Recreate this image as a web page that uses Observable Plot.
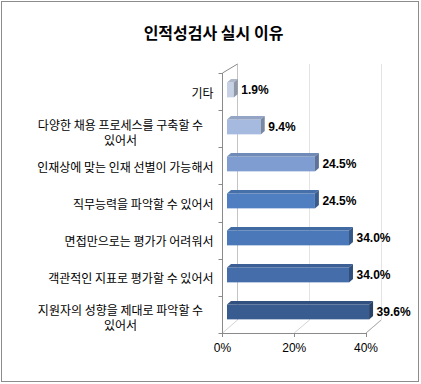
<!DOCTYPE html>
<html><head><meta charset="utf-8">
<script src="https://cdn.jsdelivr.net/npm/d3@7"></script>
<script src="https://cdn.jsdelivr.net/npm/@observablehq/plot@0.6"></script>
<style>
body{margin:0;background:#fff;}
#frame{position:absolute;left:1px;top:1px;width:416px;height:379px;border:1px solid #8c8c8c;}
#chart{position:absolute;left:0;top:0;}
</style></head><body>
<div id="frame"></div><div id="chart"></div>
<script>
const title = "인적성검사 실시 이유";
const categories = ["기타", "다양한 채용 프로세스", "인재상에 맞는 인재 선별", "직무능력 파악", "면접만으로는 평가 어려움", "객관적인 지표로 평가", "지원자의 성향 파악"];
const categoryLabels = [
  "기타",
  "다양한 채용 프로세스를 구축할 수\n있어서",
  "인재상에 맞는 인재 선별이 가능해서",
  "직무능력을 파악할 수 있어서",
  "면접만으로는 평가가 어려워서",
  "객관적인 지표로 평가할 수 있어서",
  "지원자의 성향을 제대로 파악할 수\n있어서"
];
const values = [1.9, 9.4, 24.5, 24.5, 34.0, 34.0, 39.6];
const xTicks = [0, 20, 40];
const palette = ["#c6d1e6", "#a6badf", "#7f9dd1", "#4f7fc0", "#4a78b9", "#446daa", "#385b90"];

const rows = categories.map((c, i) => ({category: c, label: categoryLabels[i], value: values[i], color: palette[i]}));
const single = rows.filter(d => !d.label.includes("\n"));
const wrapped = rows.filter(d => d.label.includes("\n"));

const W = 421, H = 384, mL = 222, mR = 55.5, mT = 73, mB = 51;
const depthX = 15, depthY = 9;   // wall depth offset
const bd = 4;                     // bar depth
const shift = 5;                  // bar mid-depth shift
const bw = (H - mT - mB) / categories.length;
const fTop = 8.5, fBot = 23.5;
const KR = "'Noto Sans CJK KR', 'Noto Sans', sans-serif";
const LAT = "'Liberation Sans', Arial, sans-serif";

function walls(index, scales) {
  const {x} = scales;
  const g = d3.create("svg:g").attr("fill", "none");
  const top = mT, bot = H - mB;
  const line = (x1, y1, x2, y2, col, w = 1) => g.append("line")
    .attr("x1", x1).attr("y1", y1).attr("x2", x2).attr("y2", y2)
    .attr("stroke", col).attr("stroke-width", w);
  for (const t of xTicks) {
    const bx = Math.round(x(t) + depthX) + 0.5;
    line(bx, top - depthY, bx, bot - 13, t === 0 ? "#c4c4c4" : "#e4e4e4");
    line(x(t) + 0.5, bot, bx, bot - 13, "#d4d4d4");
  }
  const lx = Math.round(x(0)) + 0.5;
  line(lx, top, lx, bot, "#8a8a8a");
  line(lx, top, lx + depthX, top - depthY, "#8a8a8a");
  line(lx, bot + 0.5, x(40) + 0.5, bot + 0.5, "#8a8a8a");
  line(x(40) + 0.5, bot, x(40) + depthX + 0.5, bot - 13, "#b0b0b0");
  for (const t of xTicks) line(Math.round(x(t)) + 0.5, bot, Math.round(x(t)) + 0.5, bot + 4, "#8a8a8a");
  for (let k = 0; k <= categories.length; k++) {
    const yy = Math.round(top + k * bw) + 0.5;
    line(lx - 4, yy, lx, yy, "#8a8a8a");
  }
  return g.node();
}

function barFaces(index, scales) {
  const {x, y} = scales;
  const g = d3.create("svg:g");
  for (const d of rows) {
    const s = y(d.category);
    const x0 = x(0) + shift, x1 = x(d.value) + shift;
    const t = s + fTop, b = s + fBot;
    const c = d3.color(d.color);
    g.append("path")
      .attr("d", `M${x0},${t}L${x1},${t}L${x1 + bd},${t - bd + 0.5}L${x0 + bd},${t - bd + 0.5}Z`)
      .attr("fill", c.darker(0.35).formatHex());
    g.append("path")
      .attr("d", `M${x1},${t}L${x1 + bd},${t - bd + 0.5}L${x1 + bd},${b - bd + 0.5}L${x1},${b}Z`)
      .attr("fill", c.darker(0.9).formatHex());
  }
  return g.node();
}

const chart = Plot.plot({
  width: W, height: H,
  marginLeft: mL, marginRight: mR, marginTop: mT, marginBottom: mB,
  x: {domain: [0, 40], axis: null},
  y: {type: "band", domain: categories, padding: 0, axis: null},
  color: {type: "identity"},
  style: {background: "transparent", overflow: "visible", fontFamily: KR},
  marks: [
    walls,
    Plot.rectX(rows, {x: "value", y: "category", fill: "color", insetTop: fTop, insetBottom: bw - fBot, dx: shift}),
    barFaces,
    Plot.text(rows, {x: "value", y: "category", text: d => d.value.toFixed(1) + "%", textAnchor: "start",
      dx: shift + bd + 3, dy: (fTop + fBot) / 2 - bw / 2, fontSize: 12, fontWeight: "bold", fontFamily: LAT, fill: "#000"}),
    Plot.text(single, {y: "category", text: "label", frameAnchor: "left", textAnchor: "end", dx: -9, dy: 1.5,
      fontSize: 12, fill: "#000", fontFamily: KR}),
    Plot.text(wrapped, {y: "category", text: "label", frameAnchor: "left", textAnchor: "middle", dx: -102, dy: 2.75,
      lineHeight: 1.2, fontSize: 12, fill: "#000", fontFamily: KR}),
    Plot.text(xTicks, {x: d => d, text: d => d + "%", frameAnchor: "bottom", dy: 18, fontSize: 12, fill: "#000", fontFamily: LAT}),
    Plot.text([title], {text: d => d, frameAnchor: "top-left", textAnchor: "middle", dx: -9, dy: -46,
      fontSize: 16, fontWeight: "bold", fill: "#000", fontFamily: KR})
  ]
});
document.getElementById("chart").appendChild(chart);
</script>
</body></html>
